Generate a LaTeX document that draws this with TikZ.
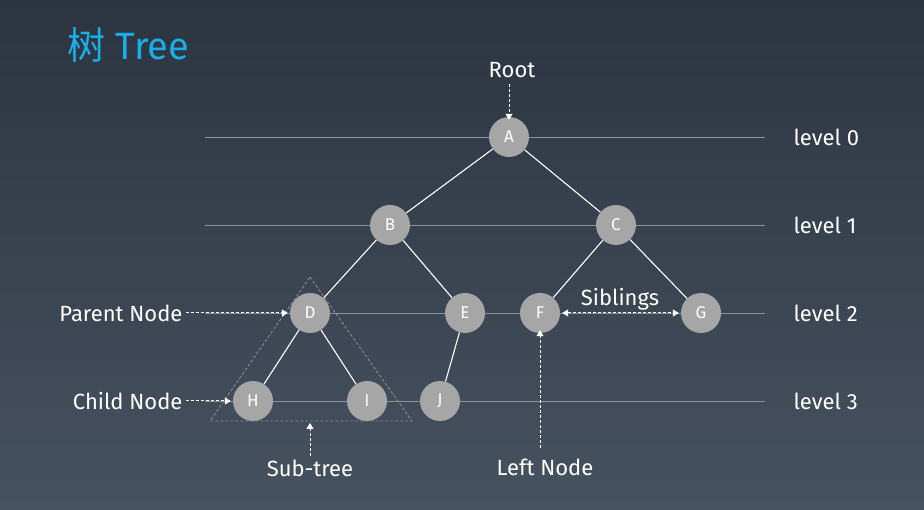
\documentclass[tikz,border=0pt]{standalone}
\usepackage{fontspec}
\setmainfont{Fira Sans}
\newfontfamily\cjkfont{Noto Sans CJK SC}
\usetikzlibrary{arrows.meta}
\definecolor{bgtop}{HTML}{2C3440}
\definecolor{bgbot}{HTML}{475260}
\definecolor{titleblue}{HTML}{1AAEE6}
\definecolor{nodegray}{HTML}{A6A6A6}
\definecolor{linegray}{HTML}{8A929C}
\tikzset{
  tnode/.style={circle, fill=nodegray, minimum size=40pt, inner sep=0pt,
                text=white, font=\fontsize{17}{17}\selectfont},
  edge/.style={draw=white, line width=1.1pt},
  levelline/.style={draw=linegray, line width=0.9pt},
  lbl/.style={text=white, font=\fontsize{22}{22}\selectfont},
  hint/.style={draw=white, dashed, line width=1pt, dash pattern=on 3pt off 2pt,
               -{Triangle[width=7pt,length=6pt]}}
}
\begin{document}
\begin{tikzpicture}[x=1pt, y=-1pt]
    % background
    \shade[top color=bgtop, bottom color=bgbot] (0,0) rectangle (924,510);
    \useasboundingbox (0,0) rectangle (924,510);
    \node[anchor=west, text=titleblue, font=\fontsize{38}{38}\selectfont] (title) at (64,45)
      {{\cjkfont 树} Tree};
    % levels
    \foreach \y/\k in {137/0, 225/1, 313/2, 401/3} {
      \draw[levelline] (205,\y) -- (765,\y);
      \node[lbl, anchor=west] (lv\k) at (790,\y) {level \k};
    }
    % sub-tree outline
    \draw[linegray, dashed, line width=0.8pt, dash pattern=on 3pt off 2pt]
      (310,277) -- (412,421) -- (210,421) -- cycle;
    % tree nodes
    \node[tnode] (A) at (509,137) {A};
    \node[tnode] (B) at (390,225) {B};
    \node[tnode] (C) at (616,225) {C};
    \node[tnode] (D) at (310,313) {D};
    \node[tnode] (E) at (465,313) {E};
    \node[tnode] (F) at (540,313) {F};
    \node[tnode] (G) at (701,313) {G};
    \node[tnode] (H) at (253,401) {H};
    \node[tnode] (I) at (367,401) {I};
    \node[tnode] (J) at (440,401) {J};
    \foreach \p/\c in {A/B, A/C, B/D, B/E, C/F, C/G, D/H, D/I, E/J}
      \draw[edge] (\p) -- (\c);
    % annotations
    \node[lbl] (root) at (512,70) {Root};
    \coordinate (rootend) at (509,84);
    \draw[hint] (rootend) -- ([yshift=-3pt]A.north);
    \node[lbl, anchor=east] (parent) at (186,313) {Parent Node};
    \draw[hint] (parent.east) -- ([xshift=-2pt]D.west);
    \node[lbl, anchor=east] (child) at (186,401) {Child Node};
    \draw[hint] (child.east) -- ([xshift=-2pt]H.west);
    \node[lbl] (subtree) at (310,468) {Sub-tree};
    \coordinate (base) at (310,423);
    \draw[hint] (subtree.north) -- (base);
    \node[lbl] (left) at (545,467) {Left Node};
    \coordinate (leftend) at (540,448);
    \draw[hint] (leftend) -- ([yshift=3pt]F.south);
    \node[lbl] (sib) at (620,299) {Siblings};
    \draw[hint, {Triangle[width=7pt,length=6pt]}-{Triangle[width=7pt,length=6pt]}]
      ([xshift=2pt]F.east) -- ([xshift=-2pt]G.west);
\end{tikzpicture}
\end{document}
